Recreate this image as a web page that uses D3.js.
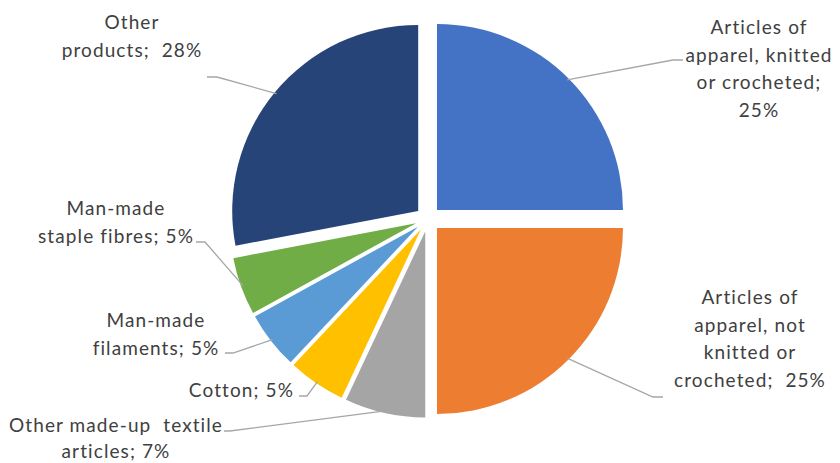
<!DOCTYPE html>
<html><head><meta charset="utf-8">
<script src="https://cdn.jsdelivr.net/npm/d3@7"></script>
<style>html,body{margin:0;padding:0;background:#fff;}svg{display:block;}</style>
</head><body>
<svg id="chart" width="840" height="463"></svg>
<script>
const categories = [
  "Articles of apparel, knitted or crocheted",
  "Articles of apparel, not knitted or crocheted",
  "Other made-up textile articles",
  "Cotton",
  "Man-made filaments",
  "Man-made staple fibres",
  "Other products"
];
const values = [25, 25, 7, 5, 5, 5, 28];
const colors = ["#4472C4", "#ED7D31", "#A5A5A5", "#FFC000", "#5B9BD5", "#70AD47", "#264478"];
const labelLines = [
  ["Articles of", "apparel, knitted", "or crocheted;", "25%"],
  ["Articles of", "apparel, not", "knitted or", "crocheted;\u00a0 25%"],
  ["Other made-up\u00a0 textile", "articles; 7%"],
  ["Cotton; 5%"],
  ["Man-made", "filaments; 5%"],
  ["Man-made", "staple fibres; 5%"],
  ["Other", "products;\u00a0 28%"]
];
// label layout: text anchor point, first-line baseline, line step, anchor, leader elbow and end
const labelLayout = [
  {x: 759, y: 34, step: 27.5, anchor: "middle", elbow: [673, 60], end: [683, 60]},
  {x: 750, y: 304, step: 27.5, anchor: "middle", elbow: [653, 397], end: [663, 397]},
  {x: 116, y: 432, step: 26, anchor: "middle", elbow: [230, 431], end: [224, 431]},
  {x: 294, y: 397, step: 27.5, anchor: "end", elbow: [307, 396], end: [299, 396]},
  {x: 156, y: 327, step: 27.5, anchor: "middle", elbow: [233, 353], end: [225, 353]},
  {x: 116, y: 215, step: 27.5, anchor: "middle", elbow: [205, 242], end: [196, 242]},
  {x: 132, y: 29, step: 27.5, anchor: "middle", elbow: [217, 77], end: [207, 77]}
];

const W = 840, H = 463;
const cx = 428, cy = 219, R = 186, explode = 12.7;
const svg = d3.select("#chart");

const pie = d3.pie().sort(null).value(d => d)(values);
const arc = d3.arc().innerRadius(0).outerRadius(R);
const g = svg.append("g").attr("transform", `translate(${cx},${cy})`);

pie.forEach((p, i) => {
  const mid = (p.startAngle + p.endAngle) / 2;
  const ox = explode * Math.sin(mid), oy = -explode * Math.cos(mid);
  g.append("path")
    .attr("d", arc(p))
    .attr("transform", `translate(${ox},${oy})`)
    .attr("fill", colors[i]);
  // leader line
  const sx = cx + ox + (R - 2) * Math.sin(mid);
  const sy = cy + oy - (R - 2) * Math.cos(mid);
  const L = labelLayout[i];
  svg.append("polyline")
    .attr("points", [[sx, sy], L.elbow, L.end].map(q => q.join(",")).join(" "))
    .attr("fill", "none")
    .attr("stroke", "#A6A6A6")
    .attr("stroke-width", 1.3);
  const t = svg.append("text")
    .attr("x", L.x).attr("y", L.y)
    .attr("text-anchor", L.anchor)
    .attr("font-family", "Lato, 'Open Sans', sans-serif")
    .attr("font-size", 19)
    .attr("letter-spacing", 1.1)
    .attr("fill", "#404040");
  labelLines[i].forEach((ln, k) => {
    t.append("tspan").attr("x", L.x).attr("y", L.y + k * L.step).text(ln);
  });
});
</script>
</body></html>
